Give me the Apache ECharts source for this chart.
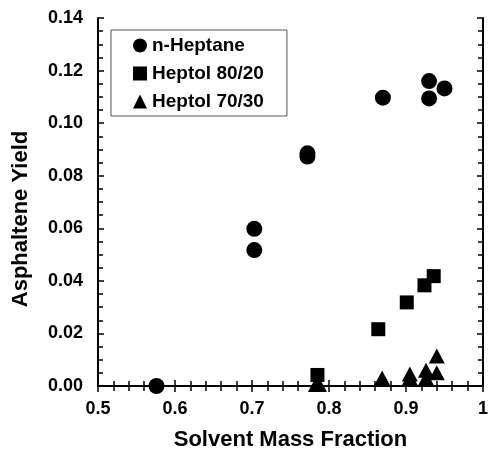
<!DOCTYPE html>
<html>
<head>
<meta charset="utf-8">
<script src="https://cdn.jsdelivr.net/npm/echarts@6/dist/echarts.min.js"></script>
<style>html,body{margin:0;padding:0;background:#fff;}#c{width:491px;height:460px;}</style>
</head>
<body>
<div id="c"></div>
<script>
var seriesNames = ['n-Heptane', 'Heptol 80/20', 'Heptol 70/30'];
var heptaneX = [0.576, 0.703, 0.703, 0.772, 0.772, 0.870, 0.930, 0.930, 0.950];
var heptaneY = [0.000, 0.0517, 0.0598, 0.0873, 0.0885, 0.1097, 0.1094, 0.1160, 0.1132];
var heptol8020X = [0.785, 0.864, 0.901, 0.924, 0.936];
var heptol8020Y = [0.0042, 0.0216, 0.0318, 0.0383, 0.0418];
var heptol7030X = [0.783, 0.787, 0.869, 0.905, 0.905, 0.926, 0.926, 0.940, 0.940];
var heptol7030Y = [0.0006, 0.0006, 0.0030, 0.0030, 0.0046, 0.0030, 0.0060, 0.0050, 0.0114];
var xTicks = [0.5, 0.6, 0.7, 0.8, 0.9, 1];
var yTicks = [0.00, 0.02, 0.04, 0.06, 0.08, 0.10, 0.12, 0.14];

function pairs(xs, ys) { return xs.map(function (x, i) { return [x, ys[i]]; }); }

var FONT = 'Liberation Sans';
var chart = echarts.init(document.getElementById('c'));
var axisLine = { lineStyle: { color: '#000', width: 2 } };
var tick = { inside: true, length: 6, lineStyle: { color: '#000', width: 1.5 } };
chart.setOption({
  animation: false,
  backgroundColor: '#fff',
  grid: { left: 98, right: 5, top: 18, bottom: 74 },
  legend: {
    left: 111, top: 30,
    orient: 'vertical',
    data: seriesNames,
    itemWidth: 14, itemHeight: 14, itemGap: 9,
    padding: [6, 23, 5, 22],
    borderColor: '#555', borderWidth: 1,
    textStyle: { fontFamily: FONT, fontWeight: 'bold', fontSize: 19, color: '#000' }
  },
  xAxis: [{
    type: 'value', min: 0.5, max: 1, interval: 0.1,
    name: 'Solvent Mass Fraction', nameLocation: 'middle', nameGap: 43,
    nameTextStyle: { fontFamily: FONT, fontWeight: 'bold', fontSize: 22, color: '#000' },
    axisLine: axisLine, axisTick: tick,
    minorTick: { show: true, splitNumber: 5, length: 5, lineStyle: { color: '#000', width: 1.5 } },
    splitLine: { show: false },
    axisLabel: { fontFamily: FONT, fontWeight: 'bold', fontSize: 18, color: '#000', margin: 14,
      formatter: function (v) { var t = xTicks.filter(function (k) { return Math.abs(k - v) < 1e-9; }); return t.length ? String(t[0]) : ''; } }
  }, {
    type: 'value', min: 0.5, max: 1, interval: 0.1, position: 'top',
    axisLine: axisLine, axisTick: tick,
    minorTick: { show: true, splitNumber: 5, length: 5, lineStyle: { color: '#000', width: 1.5 } },
    splitLine: { show: false }, axisLabel: { show: false }
  }],
  yAxis: [{
    type: 'value', min: 0, max: 0.14, interval: 0.02,
    name: 'Asphaltene Yield', nameLocation: 'middle', nameGap: 66,
    nameTextStyle: { fontFamily: FONT, fontWeight: 'bold', fontSize: 22, color: '#000', padding: [0, 34, 0, 0] },
    axisLine: axisLine, axisTick: tick,
    minorTick: { show: true, splitNumber: 4, length: 5, lineStyle: { color: '#000', width: 1.5 } },
    splitLine: { show: false },
    axisLabel: { fontFamily: FONT, fontWeight: 'bold', fontSize: 18, color: '#000', margin: 15,
      formatter: function (v) { var t = yTicks.filter(function (k) { return Math.abs(k - v) < 1e-9; }); return t.length ? t[0].toFixed(2) : ''; } }
  }, {
    type: 'value', min: 0, max: 0.14, interval: 0.02, position: 'right',
    axisLine: axisLine, axisTick: tick,
    minorTick: { show: true, splitNumber: 4, length: 5, lineStyle: { color: '#000', width: 1.5 } },
    splitLine: { show: false }, axisLabel: { show: false }
  }],
  series: [{
    name: seriesNames[0], type: 'scatter', symbol: 'circle', symbolSize: 16,
    itemStyle: { color: '#000', opacity: 1 }, data: pairs(heptaneX, heptaneY), clip: false
  }, {
    name: seriesNames[1], type: 'scatter', symbol: 'rect', symbolSize: 14,
    itemStyle: { color: '#000', opacity: 1 }, data: pairs(heptol8020X, heptol8020Y), clip: false
  }, {
    name: seriesNames[2], type: 'scatter', symbol: 'triangle', symbolSize: [16, 15],
    itemStyle: { color: '#000', opacity: 1 }, data: pairs(heptol7030X, heptol7030Y), clip: false
  }]
});
</script>
</body>
</html>
